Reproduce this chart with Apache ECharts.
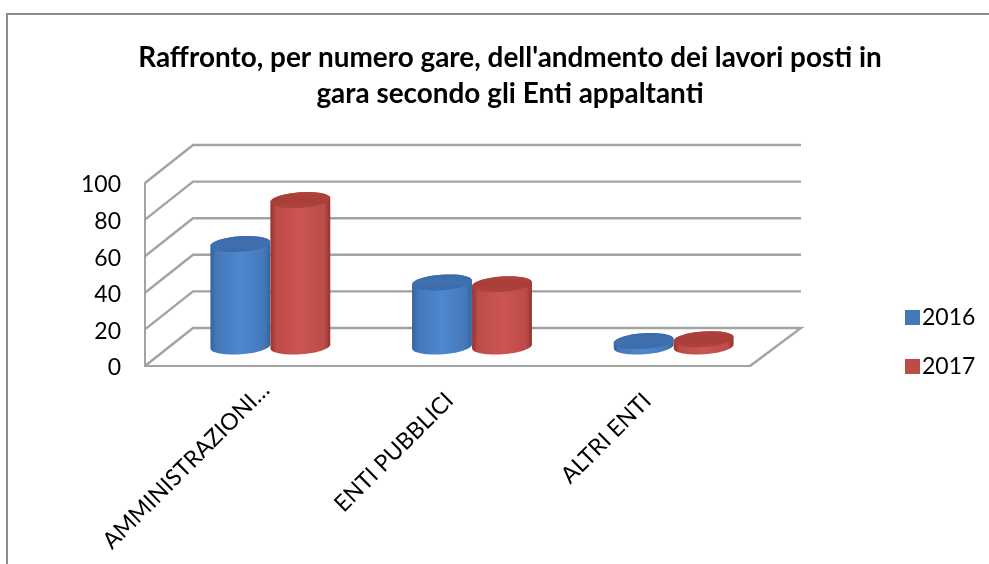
<!DOCTYPE html>
<html><head><meta charset="utf-8">
<style>html,body{margin:0;padding:0;background:#fff}#c{width:989px;height:564px}</style>
<script src="https://cdn.jsdelivr.net/npm/echarts@6/dist/echarts.min.js"></script>
</head><body><div id="c"></div>
<script>
const categories = ['AMMINISTRAZIONI…', 'ENTI PUBBLICI', 'ALTRI ENTI'];
const values2016 = [56, 35, 3];
const values2017 = [80, 34, 4];
const wallTicks = [0, 20, 40, 60, 80, 100];
const titleText = "Raffronto, per numero gare, dell'andmento dei lavori posti in\ngara secondo gli Enti appaltanti";
const FONT = 'Lato';
const DEPTH_X = 48, DEPTH_Y = -38, MID_X = 24.5, MID_Y = -19.5;
const RX = 30, RY = 7.8, TILT = -4 * Math.PI / 180, GRID = '#a3a3a3';

function ellipsePt(cx, cy, t) {
  const x = RX * Math.cos(t), y = RY * Math.sin(t);
  return [cx + x * Math.cos(TILT) - y * Math.sin(TILT), cy + x * Math.sin(TILT) + y * Math.cos(TILT)];
}
function arc(cx, cy, a, b) {
  const out = [];
  for (let i = 0; i <= 32; i++) out.push(ellipsePt(cx, cy, a + (b - a) * i / 32));
  return out;
}
function cylinderSeries(name, data, sign, edge, mid, light, topEdge, topMid) {
  return {
    name, type: 'custom', coordinateSystem: 'cartesian2d', data: data.map((v, i) => [i, v]), z: 5,
    itemStyle: { color: mid },
    renderItem(params, api) {
      const top = api.coord([api.value(0), api.value(1)]);
      const base = api.coord([api.value(0), 0]);
      const cx = top[0] + MID_X + sign * RX;
      const yT = top[1] + MID_Y, yB = base[1] + MID_Y;
      const body = arc(cx, yT, Math.PI, 2 * Math.PI).concat(arc(cx, yB, 0, Math.PI));
      return { type: 'group', children: [
        { type: 'polygon', shape: { points: body }, style: { fill: new echarts.graphic.LinearGradient(0, 0, 1, 0, [
          { offset: 0, color: edge }, { offset: 0.1, color: mid }, { offset: 0.5, color: light },
          { offset: 0.9, color: mid }, { offset: 1, color: edge }]) } },
        { type: 'polygon', shape: { points: arc(cx, yT, 0, 2 * Math.PI) }, style: { fill: new echarts.graphic.LinearGradient(0, 0, 0, 1, [
          { offset: 0, color: topEdge }, { offset: 0.5, color: topMid }, { offset: 1, color: topEdge }]) } }
      ] };
    }
  };
}
const catStyle = { fontFamily: FONT, fontSize: 23, color: '#000' };
const chart = echarts.init(document.getElementById('c'), null, { renderer: 'canvas' });
chart.setOption({
  animation: false,
  backgroundColor: '#fff',
  title: { text: titleText, left: 505, top: 35, textAlign: 'center',
    textStyle: { fontFamily: FONT, fontWeight: 'bold', fontSize: 27.9, lineHeight: 36, color: '#000' } },
  legend: { orient: 'vertical', left: 900, top: 301, itemWidth: 15, itemHeight: 15, itemGap: 26,
    icon: 'rect', data: ['2016', '2017'],
    textStyle: { fontFamily: FONT, fontSize: 23, color: '#000', padding: [0, 0, 0, -3] } },
  grid: { left: 145, right: 239, top: 183, height: 183, containLabel: false },
  xAxis: { type: 'category', data: categories, axisTick: { show: false },
    axisLine: { lineStyle: { color: GRID, width: 2 } },
    axisLabel: { rotate: 45, interval: 0, margin: 40, color: '#000',
      formatter: (v, i) => `{c${i}|${v}}`,
      rich: {
        c0: { ...catStyle, padding: [0, -28, 0, 0] },
        c1: { ...catStyle, padding: [0, -8, 10, 0] },
        c2: { ...catStyle, padding: [0, -5, 15, 0] }
      } } },
  yAxis: { type: 'value', min: 0, max: 100, interval: 20, splitLine: { show: false }, axisTick: { show: false },
    axisLine: { show: true, lineStyle: { color: GRID, width: 2 } },
    axisLabel: { margin: 24, formatter: '{a|{value}}',
      rich: { a: { fontFamily: FONT, fontSize: 23, color: '#000', padding: [4, 0, 0, 0] } } } },
  graphic: [{ type: 'polyline', silent: true, shape: { points: [[7, 564], [7, 14], [989, 14]] },
    style: { stroke: '#8c8c8c', lineWidth: 2, fill: null } }],
  series: [
    { type: 'custom', coordinateSystem: 'cartesian2d', silent: true, z: 1, data: wallTicks.map(v => [0, v]),
      renderItem(params, api) {
        const p = api.coord([0, api.value(1)]);
        const left = p[0] - api.size([1, 0])[0] / 2;
        const right = left + api.size([1, 0])[0] * categories.length;
        const pts = [[left, p[1]], [left + DEPTH_X, p[1] + DEPTH_Y], [right + DEPTH_X + 3, p[1] + DEPTH_Y]];
        if (api.value(1) === 0) pts.push([right, p[1]]);
        return { type: 'polyline', shape: { points: pts }, style: { stroke: GRID, lineWidth: 2.4, fill: null } };
      } },
    cylinderSeries('2016', values2016, -1, '#34649f', '#4478b8', '#4e88cf', '#3c6ba8', '#3f70b0'),
    cylinderSeries('2017', values2017, 1, '#93332f', '#bd4b48', '#cb5552', '#b0423d', '#a83e38')
  ]
});
</script></body></html>
